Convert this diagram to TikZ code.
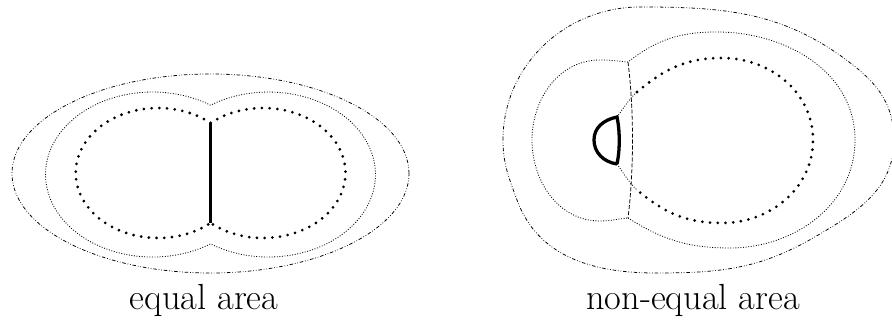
\documentclass[tikz,border=0pt]{standalone}
\usepackage{fontspec}
\usepackage{tikz}
\usetikzlibrary{calc}
\tikzset{
    outerlevel/.style={line width=0.65pt, dash pattern=on 3pt off 1.6pt on 0.6pt off 1.6pt on 0.6pt off 1.6pt},
    midlevel/.style={line width=0.7pt, dash pattern=on 0.8pt off 1.4pt},
    seplevel/.style={line width=0.65pt, dash pattern=on 3.5pt off 1.6pt},
    bubbledots/.style={line width=2.6pt, line cap=round, dash pattern=on 0pt off 6.6pt},
    junction/.style={line width=2.8pt},
    arealabel/.style={font=\fontsize{31}{37}\selectfont, anchor=base, inner sep=0pt},
}

\begin{document}
\begin{tikzpicture}[x=0.03cm, y=0.03cm]
    \useasboundingbox (0,0) rectangle (892,320);
    % equal area
    \draw[outerlevel] (210.5,146.5) ellipse [x radius=198.5, y radius=99.5];
    \draw[midlevel] (210.5,214.8)
        arc[start angle=57.2, end angle=302.8, x radius=107, y radius=82.5]
        arc[start angle=237.2, end angle=482.8, x radius=107, y radius=82.5];
    \coordinate (jtop) at (210.6,197);
    \coordinate (jbot) at (210.6,97);
    \draw[bubbledots] (jtop) arc[start angle=50.3, end angle=309.7, x radius=82.3, y radius=65];
    \draw[bubbledots] (jtop) arc[start angle=129.7, end angle=-129.7, x radius=82.3, y radius=65];
    \draw[junction] (jtop) -- (jbot);
    \node[arealabel] (eqlabel) at (204,10) {equal area};
    % non-equal area
    \draw[outerlevel] (503,180) to[out=90,in=180] (640,313) to[out=0,in=142] (853,255)
        to[out=-38,in=90] (894,180) to[out=-90,in=30] (813,82)
        to[out=210,in=0] (655,47) to[out=180,in=-70] (517,120)
        to[out=110,in=-90] cycle;
    \coordinate (ctop) at (628,258);
    \coordinate (cbot) at (628,102);
    \draw[midlevel] (ctop) to[out=175,in=0] (600,260) to[out=180,in=90] (532,180)
        to[out=-90,in=180] (600,99) to[out=0,in=185] (cbot);
    \draw[midlevel] (cbot) to[out=-32,in=180] (730,72) to[out=0,in=-90] (855,180)
        to[out=90,in=0] (717,288) to[out=180,in=38] (ctop);
    \draw[seplevel] (ctop) .. controls (634,210) and (634,150) .. (cbot);
    \coordinate (dtop) at (617,203);
    \coordinate (dbot) at (617,156);
    \draw[junction] (dbot) .. controls (620,170) and (620,189) .. (dtop)
        .. controls (603,200) and (594,192) .. (594,180)
        .. controls (594,168) and (603,158) .. (dbot);
    \coordinate (btop) at (637,228);
    \coordinate (bbot) at (637,130);
    \draw[midlevel] (dtop) .. controls (622,210) and (630,222) .. (btop);
    \draw[midlevel] (dbot) .. controls (622,149) and (630,136) .. (bbot);
    \draw[bubbledots] (btop) to[out=40,in=180] (722,262) to[out=0,in=90] (813,180)
        to[out=-90,in=0] (722,97) to[out=180,in=-40] (bbot);
    \node[arealabel] (nelabel) at (693,10) {non-equal area};
\end{tikzpicture}
\end{document}
